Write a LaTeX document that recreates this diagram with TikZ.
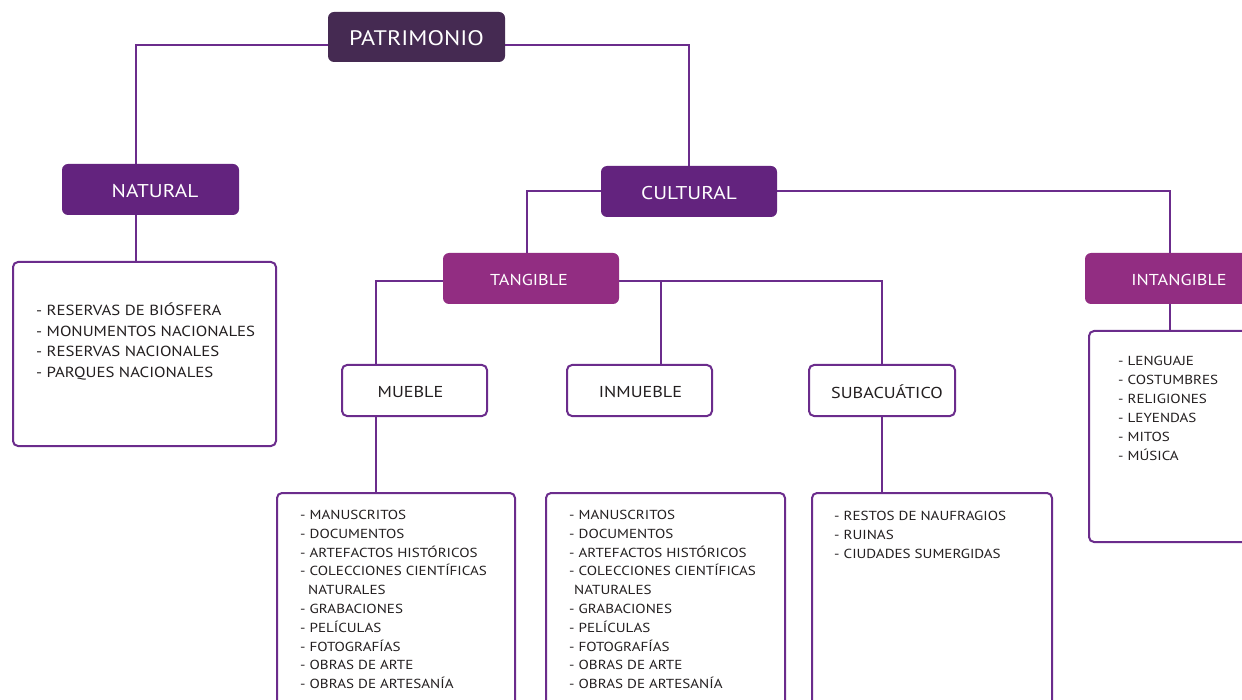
\documentclass[tikz,border=0pt]{standalone}
\usepackage{fontspec}
\setmainfont{PT Sans}[FakeStretch=1.15]
\usetikzlibrary{backgrounds}
\definecolor{cdark}{HTML}{452A52}
\definecolor{cpurple}{HTML}{63237E}
\definecolor{cmag}{HTML}{922D82}
\definecolor{clin}{HTML}{6B2C8C}
\definecolor{ctxt}{HTML}{231F20}
\newcommand\lowertxt[1]{\raisebox{-1.5pt}[\height][\depth]{#1}}
\begin{document}
\begin{tikzpicture}[x=1pt,y=-1pt,
  filledbox/.style={rounded corners=6pt, draw=none, text=white, inner sep=0pt},
  outbox/.style={draw=clin, line width=2pt, fill=white, rounded corners=5pt, text=ctxt, inner sep=0pt},
  listbox/.style={draw=clin, line width=2pt, fill=white, rounded corners=5pt, inner sep=0pt},
  conn/.style={draw=clin, line width=2pt},
  item/.style={anchor=base west, inner sep=0pt, text=ctxt, font=\fontsize{14.6}{14.6}\selectfont},
  smitem/.style={anchor=base west, inner sep=0pt, text=ctxt, font=\fontsize{13.1}{13.1}\selectfont},
  bigf/.style={font=\fontsize{21}{21}\selectfont},
  midf/.style={font=\fontsize{18.5}{18.5}\selectfont},
  smf/.style={font=\fontsize{15.8}{15.8}\selectfont}]
\useasboundingbox (0,0) rectangle (1242,700);
% coordinates for connector drops
\coordinate (nx) at (136,0);
\coordinate (tx) at (527,0);
\coordinate (mx) at (376,0);
\coordinate (ix) at (661,0);
\coordinate (gx) at (1170,0);
% boxes
\node[filledbox, fill=cdark, bigf, minimum width=177pt, minimum height=50pt] (pat) at (416.5,37) {\lowertxt{PATRIMONIO}};
\node[filledbox, fill=cpurple, midf, minimum width=177pt, minimum height=51pt] (nat) at (150.5,189.5) {\hspace*{9pt}\lowertxt{NATURAL}};
\node[filledbox, fill=cpurple, midf, minimum width=176pt, minimum height=51pt] (cul) at (689,191.5) {\lowertxt{CULTURAL}};
\node[filledbox, fill=cmag, smf, minimum width=176pt, minimum height=51pt] (tan) at (531,278.5) {\hspace*{-4pt}\lowertxt{TANGIBLE}};
\node[filledbox, fill=cmag, smf, minimum width=177pt, minimum height=51pt] (int) at (1173.5,278.5) {\hspace*{11pt}\lowertxt{INTANGIBLE}};
\node[outbox, smf, minimum width=145pt, minimum height=51pt] (mue) at (414.5,390.5) {\hspace*{-8pt}\lowertxt{MUEBLE}};
\node[outbox, smf, minimum width=145pt, minimum height=51pt] (inm) at (639.5,390.5) {\hspace*{2pt}\lowertxt{INMUEBLE}};
\node[outbox, smf, minimum width=146pt, minimum height=51pt] (sub) at (882,390.5) {\hspace*{10pt}\lowertxt{SUBACUÁTICO}};
% list boxes
\node[listbox, minimum width=263pt, minimum height=184pt] (natl) at (144.5,354) {};
\node[listbox, minimum width=238pt, minimum height=247pt] (muel) at (396,616.5) {};
\node[listbox, minimum width=239pt, minimum height=247pt] (inml) at (665.5,616.5) {};
\node[listbox, minimum width=240pt, minimum height=247pt] (subl) at (932,616.5) {};
\node[listbox, minimum width=200pt, minimum height=211pt] (intl) at (1189,436.5) {};
% connectors
\begin{scope}[on background layer]
\draw[conn] ([yshift=-8pt]pat.west) -| (nat.north -| nx);
\draw[conn] ([yshift=-8pt]pat.east) -| (cul.north);
\draw[conn] (nat.south -| nx) -- (natl.north -| nx);
\draw[conn] (cul.west) -| (tan.north -| tx);
\draw[conn] (cul.east) -| (int.north -| gx);
\draw[conn] ([yshift=-2.5pt]tan.west) -| (mue.north -| mx);
\draw[conn] ([yshift=-2.5pt]tan.east) -| (sub.north);
\draw[conn] (tan.east |- 0,281) -| (inm.north -| ix);
\draw[conn] (mue.south -| mx) -- (muel.north -| mx);
\draw[conn] (sub.south) -- (sub.south |- subl.north);
\draw[conn] (int.south -| gx) -- (intl.north -| gx);
\end{scope}
% list texts
\foreach \t [count=\i] in {- RESERVAS DE BIÓSFERA, - MONUMENTOS NACIONALES, - RESERVAS NACIONALES, - PARQUES NACIONALES}
  \node[item] (na\i) at (36,{316+20.5*(\i-1)}) {\t};
\foreach \t [count=\i] in {- MANUSCRITOS, - DOCUMENTOS, - ARTEFACTOS HISTÓRICOS, - COLECCIONES CIENTÍFICAS, \hspace*{8pt}NATURALES, - GRABACIONES, - PELÍCULAS, - FOTOGRAFÍAS, - OBRAS DE ARTE, - OBRAS DE ARTESANÍA}
  \node[smitem] (mu\i) at (300,{519.5+18.8*(\i-1)}) {\t};
\foreach \t [count=\i] in {- MANUSCRITOS, - DOCUMENTOS, - ARTEFACTOS HISTÓRICOS, - COLECCIONES CIENTÍFICAS, \hspace*{5pt}NATURALES, - GRABACIONES, - PELÍCULAS, - FOTOGRAFÍAS, - OBRAS DE ARTE, - OBRAS DE ARTESANÍA}
  \node[smitem] (in\i) at (569,{519.5+18.8*(\i-1)}) {\t};
\foreach \t [count=\i] in {- RESTOS DE NAUFRAGIOS, - RUINAS, - CIUDADES SUMERGIDAS}
  \node[smitem] (su\i) at (834,{520.5+18.8*(\i-1)}) {\t};
\foreach \t [count=\i] in {- LENGUAJE, - COSTUMBRES, - RELIGIONES, - LEYENDAS, - MITOS, - MÚSICA}
  \node[smitem] (it\i) at (1118,{365.5+19*(\i-1)}) {\t};
\end{tikzpicture}
\end{document}
